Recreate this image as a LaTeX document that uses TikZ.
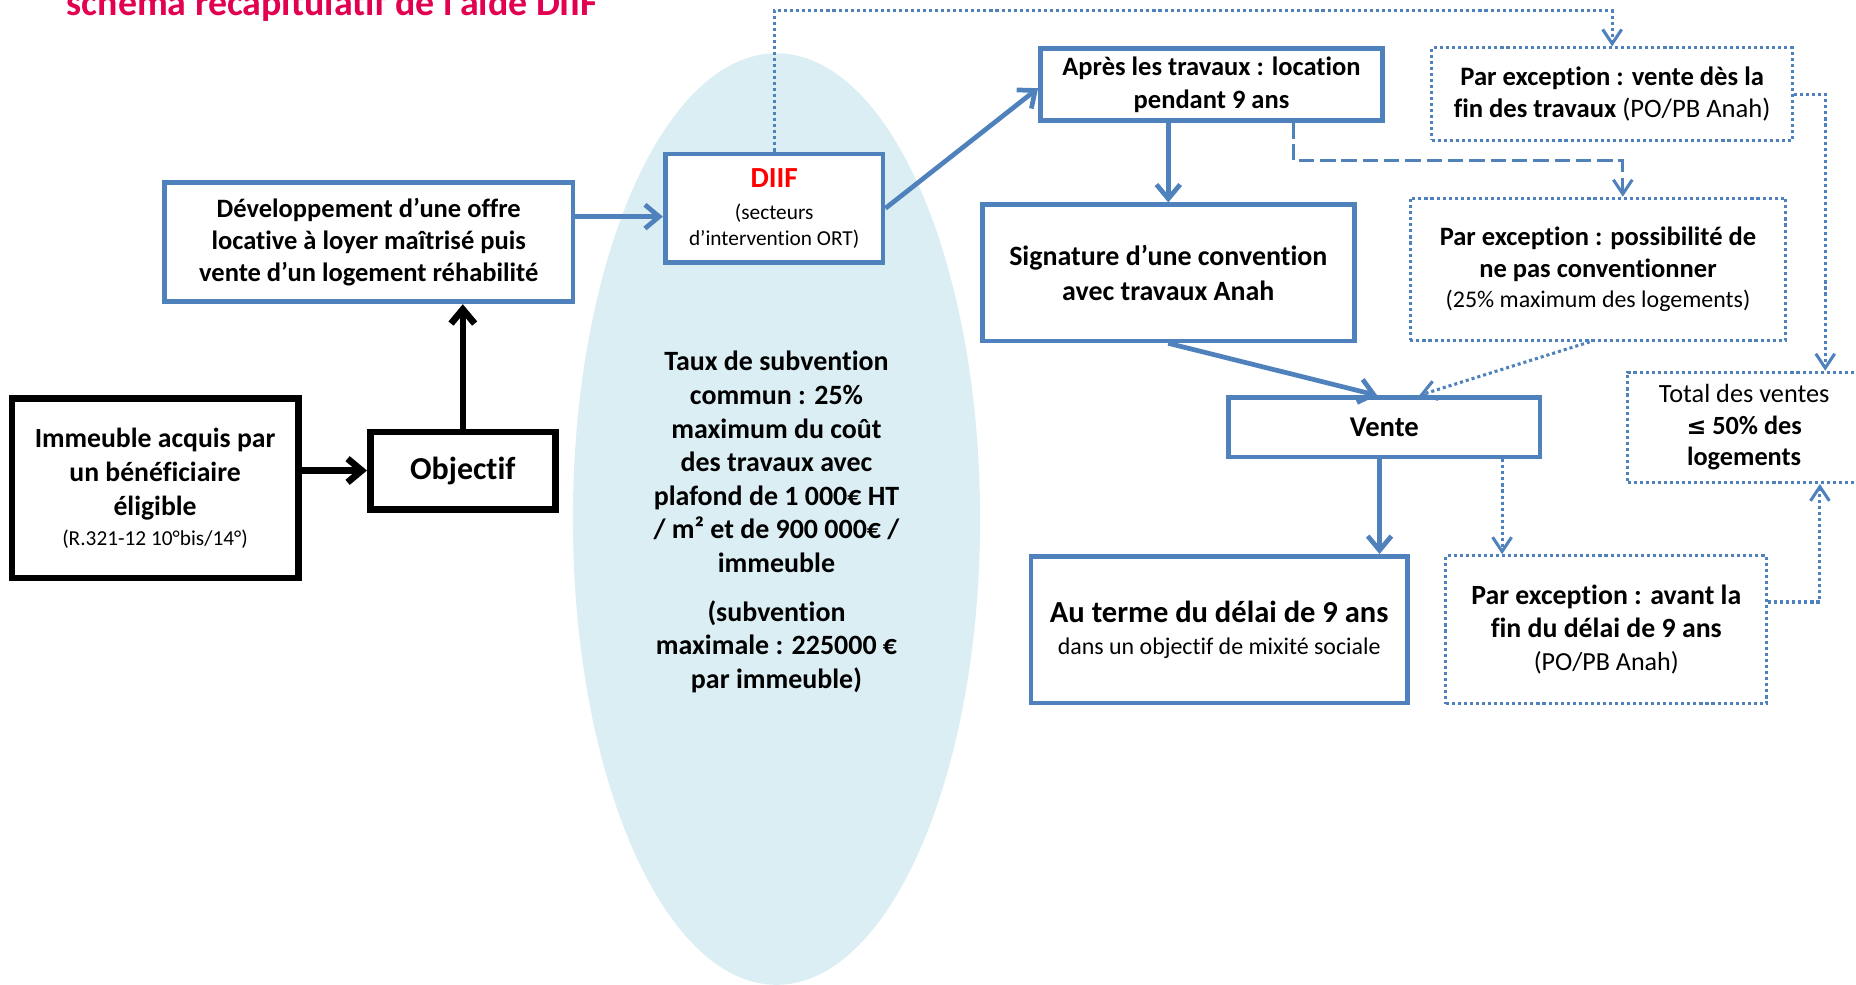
\documentclass[tikz,border=0pt]{standalone}
\usepackage{fontspec}
\setmainfont{Carlito}[Ligatures=NoCommon]
\newfontfamily\dejavu{DejaVu Sans}
\usetikzlibrary{arrows.meta,calc,shapes.geometric}
\definecolor{ablue}{RGB}{79,129,189}
\definecolor{aqua}{RGB}{219,238,243}
\definecolor{titlered}{RGB}{226,0,80}
\definecolor{diifred}{RGB}{255,0,0}
\newcommand{\fsz}[2]{\fontsize{#1}{#2}\selectfont}
\begin{document}
\begin{tikzpicture}[x=0.5pt,y=-0.5pt,
 bbox/.style={draw=ablue,line width=2pt,fill=white,align=center,inner sep=0pt},
 kbox/.style={draw=black,line width=2.8pt,fill=white,align=center,inner sep=0pt},
 dbox/.style={draw=ablue,line width=1.3pt,dash pattern=on 1.3pt off 1.25pt,fill=white,align=center,inner sep=0pt},
 karrow/.style={draw=black,line width=2.8pt,-{Straight Barb[length=6pt,width=10pt]}},
 barrow/.style={draw=ablue,line width=2pt,-{Straight Barb[length=6pt,width=10pt]}},
 darrow/.style={draw=ablue,line width=1.3pt,dash pattern=on 1.3pt off 1.25pt,-{Straight Barb[length=6pt,width=8pt]}},
 dasharrow/.style={draw=ablue,line width=1.3pt,dash pattern=on 6.5pt off 2.5pt,-{Straight Barb[length=6pt,width=8pt]}},
]
\useasboundingbox (0,0) rectangle (1568,832);
\clip (0,0) rectangle (1568,832);

% title (cut at the top, as in the reference)
\node[anchor=base west,text=titlered,font=\fsz{16}{19}\bfseries,inner sep=0pt] (title) at (56,13.5) {schéma récapitulatif de l’aide DIIF};

% ellipse
\node[ellipse,fill=aqua,minimum width=172pt,minimum height=393.5pt,inner sep=0pt] (ell) at (656,438.5) {};
\node[align=center,font=\fsz{11.8}{14.2}\bfseries,inner sep=0pt] (elltext) at (656,441) {Taux de subvention\\ commun : 25\%\\ maximum du coût\\ des travaux avec\\ plafond de 1 000€ HT\\ / m² et de 900 000€ /\\ immeuble\\[6.3pt] (subvention\\ maximale : 225000 €\\ par immeuble)};

% boxes
\node[kbox,minimum width=121pt,minimum height=75.7pt,font=\fsz{11.7}{14.25}\bfseries] (imm) at (131,412.5) {Immeuble acquis par\\ un bénéficiaire\\ éligible\\[-1.7pt] {\fsz{9}{12}\mdseries (R.321-12 10°bis/14°)}};
\node[kbox,minimum width=78.2pt,minimum height=32.7pt,font=\fsz{13.5}{16}\bfseries] (obj) at (391,397.5) {Objectif};
\node[bbox,minimum width=172.5pt,minimum height=50.5pt,font=\fsz{11.2}{13.5}\bfseries] (dev) at (311.5,204.5) {Développement d’une offre\\ locative à loyer maîtrisé puis\\ vente d’un logement réhabilité};
\node[bbox,minimum width=92pt,minimum height=46pt,font=\fsz{9}{11}] (diif) at (654,176) {{\fsz{12.3}{13}\bfseries\color{diifred}DIIF}\\[2.5pt] (secteurs\\ d’intervention ORT)};
\node[bbox,minimum width=144.5pt,minimum height=30.5pt,font=\fsz{11.2}{14}\bfseries] (apres) at (1023.5,71.5) {Après les travaux : location\\ pendant 9 ans};
\node[bbox,minimum width=157pt,minimum height=57.5pt,font=\fsz{11.8}{14.5}\bfseries] (sig) at (987,230.5) {Signature d’une convention\\ avec travaux Anah};
\node[dbox,minimum width=152.5pt,minimum height=39pt,font=\fsz{11.25}{13.5}\bfseries] (exc1) at (1362,79.5) {Par exception : vente dès la\\ fin des travaux {\mdseries (PO/PB Anah)}};
\node[dbox,minimum width=158.5pt,minimum height=60pt,font=\fsz{11.2}{13.5}\bfseries] (exc2) at (1350,227.5) {Par exception : possibilité de\\ ne pas conventionner\\[-1pt] {\fsz{10.1}{12}\mdseries (25\% maximum des logements)}};
\node[dbox,minimum width=98.5pt,minimum height=46.5pt,font=\fsz{11.1}{13.4}] (total) at (1473.5,361) {Total des ventes\\ \textbf{{\dejavu\fsz{10}{13.4}≤} 50\% des}\\ \textbf{logements}};
\node[bbox,minimum width=131.5pt,minimum height=25pt,font=\fsz{12.1}{14}\bfseries] (vente) at (1169.5,361) {Vente};
\node[bbox,minimum width=159pt,minimum height=62pt,font=\fsz{12.9}{13.5}\bfseries] (terme) at (1030,532) {Au terme du délai de 9 ans\\ {\fsz{10.1}{12}\mdseries dans un objectif de mixité sociale}};
\node[dbox,minimum width=135.5pt,minimum height=62.5pt,font=\fsz{11.75}{14}\bfseries] (avant) at (1357,532) {Par exception : avant la\\ fin du délai de 9 ans\\ {\fsz{11}{14}\mdseries (PO/PB Anah)}};

% helper coordinates
\coordinate (topline) at (0,9);
\coordinate (midline) at (0,135.7);

% connectors
\draw[karrow] (imm.east |- obj.west) -- (obj.west);
\draw[karrow] (obj.north) -- (obj.north |- dev.south);
\draw[barrow] ([yshift=-3.5pt]diif.west -| dev.east) -- ([yshift=-3.5pt]diif.west);
\draw[barrow] (diif.east) -- ([yshift=-1.5pt]apres.west);
\draw[barrow] (sig.north |- apres.south) -- (sig.north);
\draw[barrow] (sig.south) -- ([xshift=-3pt]vente.north);
\draw[darrow] ([xshift=-3.5pt]exc2.south) -- ([xshift=14.75pt]vente.north);
\draw[barrow] ([xshift=-2pt]vente.south) -- ([xshift=-2pt]vente.south |- terme.north);
\draw[darrow] ([xshift=49.75pt]vente.south) -- ([xshift=49.75pt]vente.south |- avant.north);
\draw[darrow] ([yshift=11.7pt]avant.east) -| ([xshift=32pt]total.south);
\draw[darrow] (exc1.east) -| ([xshift=34.25pt]total.north);
\draw[darrow] (diif.north) -- (diif.north |- topline) -| (exc1.north);
\draw[dasharrow] ([xshift=34.75pt]apres.south) -- ([xshift=34.75pt]apres.south |- midline) -| ([xshift=10.5pt]exc2.north);
\end{tikzpicture}
\end{document}
